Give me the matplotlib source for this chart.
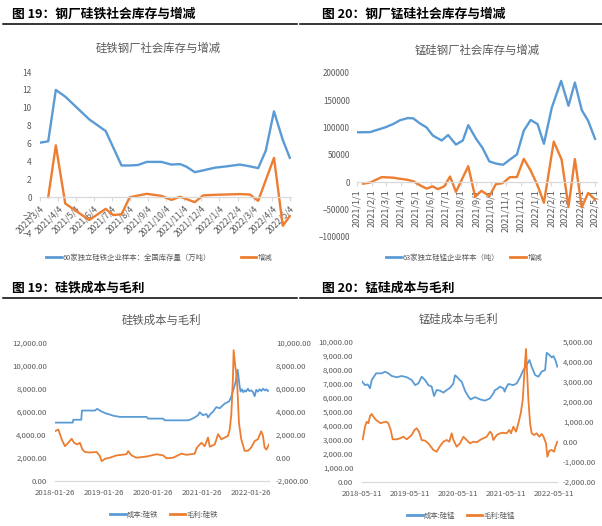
import numpy as np
import pandas as pd
import matplotlib
matplotlib.use("Agg")
import matplotlib.pyplot as plt
from matplotlib.lines import Line2D

plt.rcParams['font.family'] = ['Noto Sans CJK SC', 'DejaVu Sans']

BLUE, ORANGE = "#5B9BD5", "#ED7D31"
AXIS = "#D9D9D9"
TXT = "#595959"
W, H = 602, 526

# ---- 硅铁 social inventory (万吨), day offsets from 2021-03-04
FE_START = "2021-03-04"
fe_inv_days = [0, 14, 27, 43, 84, 112, 139, 153, 167, 182, 207, 224, 239, 250, 264,
               278, 298, 318, 341, 358, 372, 385, 399, 414, 426]
fe_inv = [6.1, 6.25, 12.0, 11.25, 8.7, 7.4, 3.55, 3.55, 3.6, 3.95, 3.95, 3.65, 3.7, 3.4, 2.8,
          3.0, 3.3, 3.45, 3.65, 3.45, 3.25, 5.2, 9.6, 6.4, 4.4]
fe_chg_days = [14, 27, 43, 84, 112, 125, 139, 153, 182, 207, 224, 239, 264, 278, 298,
               341, 358, 372, 399, 414, 426]
fe_chg = [0, 5.8, -0.7, -2.55, -1.3, -2.0, -1.9, 0, 0.38, 0.15, -0.3, 0.05, -0.55, 0.2, 0.27,
          0.35, 0.3, -0.4, 4.4, -3.2, -2.1]
fe_ticks = ["2021/3/4", "2021/4/4", "2021/5/4", "2021/6/4", "2021/7/4", "2021/8/4",
            "2021/9/4", "2021/10/4", "2021/11/4", "2021/12/4", "2022/1/4", "2022/2/4",
            "2022/3/4", "2022/4/4", "2022/5/4"]

# ---- 锰硅 social inventory (吨), day offsets from 2021-01-01
MN_START = "2021-01-01"
mn_inv_days = [0, 27, 58, 74, 88, 104, 115, 129, 142, 155, 173, 186, 202, 216, 227, 243,
               256, 270, 285, 298, 312, 326, 340, 354, 368, 381, 397, 416, 431, 444, 458,
               471, 485]
mn_inv = [91000, 91300, 100000, 106000, 113000, 117000, 116500, 107000, 100000, 85000,
          76000, 86000, 68500, 76000, 104000, 79000, 62500, 37600, 33400, 31600, 41300,
          50400, 94000, 113500, 106000, 70000, 136000, 185000, 139500, 182000, 131600,
          112000, 79000]
mn_chg_days = [13, 27, 51, 74, 88, 102, 115, 129, 142, 155, 165, 178, 190, 202, 227, 241,
               254, 270, 283, 297, 312, 326, 340, 354, 368, 381, 401, 417, 431, 444, 458,
               471, 485]
mn_chg = [-3000, -1000, 9000, 8000, 6000, 4300, 1500, -6000, -12000, -8000, -13000, -8000,
          10000, -18000, 29000, -27000, -16000, -26000, -4000, -2000, 9000, 9000, 42500,
          21000, -6000, -38000, 74000, 41000, -45500, 42000, -46500, -20000, -32000]
mn_ticks = ["2021/1/1", "2021/2/1", "2021/3/1", "2021/4/1", "2021/5/1", "2021/6/1",
            "2021/7/1", "2021/8/1", "2021/9/1", "2021/10/1", "2021/11/1", "2021/12/1",
            "2022/1/1", "2022/2/1", "2022/3/1", "2022/4/1", "2022/5/1"]

# ---- 硅铁 cost / margin, day offsets from 2018-01-26
FC_START = "2018-01-26"
fc_cost_days = [0, 132, 137, 196, 201, 298, 315, 335, 360, 380, 410, 435, 484, 683, 695,
                807, 819, 993, 1018, 1043, 1068, 1080, 1105, 1130, 1142, 1160, 1179, 1204,
                1229, 1266, 1299, 1316, 1328, 1346, 1363, 1378, 1385, 1395, 1405, 1415,
                1425, 1440, 1450, 1465, 1478, 1490, 1502, 1515, 1527, 1540, 1552, 1565,
                1577, 1587, 1597]
fc_cost = [5050, 5050, 5300, 5300, 6100, 6100, 6250, 6100, 5950, 5850, 5750, 5650, 5550,
           5550, 5400, 5400, 5250, 5250, 5350, 5500, 5700, 5950, 5700, 5800, 5500, 5800,
           6000, 6400, 6300, 6700, 6900, 7300, 7800, 8500, 9650, 8200, 7750, 7950, 7700,
           7850, 7750, 8000, 7800, 7850, 7700, 7350, 7900, 7750, 7950, 7800, 8000, 7850,
           7950, 7800, 7850]
fc_margin_days = [0, 25, 50, 74, 99, 124, 142, 166, 186, 204, 223, 261, 310, 335, 348, 372,
                  410, 459, 534, 546, 571, 608, 683, 757, 807, 832, 881, 944, 981, 1043,
                  1055, 1068, 1093, 1117, 1142, 1155, 1192, 1217, 1241, 1291, 1304, 1316,
                  1328, 1333, 1345, 1358, 1373, 1390, 1415, 1440, 1465, 1490, 1514, 1539,
                  1552, 1564, 1577, 1597]
fc_margin = [2300, 2450, 1600, 1000, 1300, 1650, 1300, 1150, 1300, 720, 500, 450, 500, 150,
             -300, -100, 0, 200, 300, 570, 200, 0, 100, 300, 200, -50, 0, 350, 250, 350,
             780, 1000, 1300, 1000, 1750, 950, 1150, 2050, 1600, 1900, 2450, 3800, 7000,
             9350, 8000, 6800, 3000, 1600, 600, 600, 900, 1450, 1600, 2300, 1900, 900, 700,
             1150]
fc_ticks = ["2018-01-26", "2019-01-26", "2020-01-26", "2021-01-26", "2022-01-26"]

# ---- 锰硅 cost / margin, day offsets from 2018-05-11
MC_START = "2018-05-11"
mc_cost_days = [0, 25, 46, 63, 76, 109, 152, 177, 202, 228, 266, 304, 342, 380, 405, 430,
                455, 481, 506, 531, 549, 569, 595, 620, 645, 670, 695, 708, 721, 740, 759,
                784, 810, 827, 860, 898, 936, 974, 999, 1012, 1025, 1050, 1075, 1085, 1095,
                1113, 1151, 1176, 1202, 1227, 1252, 1273, 1290, 1316, 1341, 1366, 1392,
                1404, 1424, 1442, 1455, 1470, 1485]
mc_cost = [7190, 6900, 6950, 6670, 7260, 7740, 7740, 7860, 7740, 7550, 7460, 7550, 7460,
           7260, 6900, 7020, 7500, 7260, 6900, 6790, 6120, 6550, 6500, 6360, 6550, 6700,
           7000, 7600, 7500, 7300, 7140, 6500, 6070, 5880, 6040, 5880, 5790, 5960, 6310,
           6550, 6600, 6790, 6670, 6430, 6700, 6980, 6900, 7020, 7460, 7980, 8340, 8690,
           8210, 7620, 7500, 7860, 7980, 9210, 9050, 8880, 8970, 8690, 8210]
mc_margin_days = [8, 25, 38, 51, 63, 76, 89, 109, 127, 144, 164, 185, 202, 220, 235, 266,
                  291, 316, 342, 380, 400, 417, 435, 455, 481, 506, 544, 569, 595, 620,
                  645, 665, 683, 696, 721, 746, 772, 797, 822, 848, 873, 898, 923, 949,
                  974, 986, 999, 1025, 1050, 1075, 1100, 1121, 1133, 1151, 1171, 1189,
                  1207, 1222, 1240, 1247, 1255, 1265, 1278, 1290, 1308, 1328, 1348, 1366,
                  1380, 1399, 1409, 1424, 1442, 1460, 1470, 1485]
mc_margin = [120, 750, 1000, 920, 1285, 1385, 1250, 1085, 1000, 920, 970, 1000, 920, 585,
             120, 120, 170, 250, 120, 335, 585, 670, 500, 85, 50, -85, -415, -500, -215, 0,
             85, 0, 420, 85, -250, -85, 250, 85, -85, 0, -30, 85, 170, 250, 500, 420, 85,
             335, 420, 450, 420, 585, 420, 750, 500, 920, 1420, 2085, 4000, 4635, 3500,
             2085, 920, 420, 335, 420, 250, 385, 250, -85, -750, -450, -415, -500, -250, 0]
mc_ticks = ["2018-05-11", "2019-05-11", "2020-05-11", "2021-05-11", "2022-05-11"]


def to_dates(start, days):
    return pd.Timestamp(start) + pd.to_timedelta(days, unit="D")


def frac(x0, y0, x1, y1):  # pixel box -> figure fraction rect
    return [x0 / W, 1 - y1 / H, (x1 - x0) / W, (y1 - y0) / H]


def heading(x, y, s, x0, x1):
    fig.text(x / W, 1 - y / H, s, fontsize=9.2, fontweight="bold", ha="left", va="center")
    fig.add_artist(Line2D([x0 / W, x1 / W], [1 - (y + 9.5) / H] * 2, color="black", lw=1.1))


def clean(ax):
    for s in ["top", "right", "left"]:
        ax.spines[s].set_visible(False)
    ax.spines["bottom"].set_color(AXIS)
    ax.spines["bottom"].set_linewidth(0.9)


def legend(x, y, labels, gap):
    hs = [Line2D([], [], color=BLUE, lw=2), Line2D([], [], color=ORANGE, lw=2)]
    fig.legend(hs, labels, loc="center", bbox_to_anchor=(x / W, 1 - y / H), ncol=2,
               frameon=False, fontsize=5.3, handlelength=2.1, handletextpad=0.2,
               columnspacing=gap, labelcolor=TXT)


fig = plt.figure(figsize=(6.02, 5.26), dpi=100)

heading(12, 14, "图 19：钢厂硅铁社会库存与增减", 3, 297)
heading(322, 14, "图 20：钢厂锰硅社会库存与增减", 300, 602)
heading(12, 288, "图 19：硅铁成本与毛利", 3, 297)
heading(322, 288, "图 20：锰硅成本与毛利", 300, 602)

# ---- panel 1
ax = fig.add_axes(frac(40, 72, 291, 233))
ax.plot(to_dates(FE_START, fe_inv_days), fe_inv, color=BLUE, lw=1.7)
ax.plot(to_dates(FE_START, fe_chg_days), fe_chg, color=ORANGE, lw=1.7)
ax.set_ylim(-4, 14)
ax.set_yticks(np.arange(-4, 15, 2))
ax.set_xlim(pd.Timestamp(FE_START), pd.Timestamp("2022-05-06"))
clean(ax)
ax.spines["bottom"].set_position(("data", 0))
ax.set_xticks(pd.to_datetime(fe_ticks, format="%Y/%m/%d"))
ax.set_xticklabels(fe_ticks, rotation=45, ha="right", va="top", rotation_mode="anchor")
ax.tick_params(axis="x", length=3, color=AXIS, labelsize=6.2, labelcolor=TXT, pad=2)
ax.tick_params(axis="y", length=0, labelsize=6, labelcolor=TXT, pad=6)
fig.text(158 / W, 1 - 48 / H, "硅铁钢厂社会库存与增减", fontsize=8.2, color=TXT,
         ha="center", va="center")
legend(159, 258, ["60家独立硅铁企业样本：全国库存量（万吨）", "增减"], 4.0)

# ---- panel 2
ax = fig.add_axes(frac(356.7, 72.7, 597, 236.7))
ax.plot(to_dates(MN_START, mn_inv_days), mn_inv, color=BLUE, lw=1.7)
ax.plot(to_dates(MN_START, mn_chg_days), mn_chg, color=ORANGE, lw=1.7)
ax.set_ylim(-100000, 200000)
ax.set_yticks(np.arange(-100000, 200001, 50000))
ax.set_xlim(pd.Timestamp(MN_START), pd.Timestamp("2022-05-05"))
clean(ax)
ax.spines["bottom"].set_position(("data", 0))
ax.set_xticks(pd.to_datetime(mn_ticks, format="%Y/%m/%d"))
ax.set_xticklabels(mn_ticks, rotation=90, ha="center", va="top")
ax.tick_params(axis="x", length=3, color=AXIS, labelsize=6.6, labelcolor=TXT, pad=2)
ax.tick_params(axis="y", length=0, labelsize=5.8, labelcolor=TXT, pad=5)
fig.text(477 / W, 1 - 50 / H, "锰硅钢厂社会库存与增减", fontsize=8.2, color=TXT,
         ha="center", va="center")
legend(464, 258, ["63家独立硅锰企业样本（吨）", "增减"], 1.5)

# ---- panel 3
ax = fig.add_axes(frac(55, 342.7, 269, 480.7))
ax.plot(to_dates(FC_START, fc_cost_days), fc_cost, color=BLUE, lw=1.3)
ax.set_ylim(0, 12000)
ax.set_yticks(np.arange(0, 12001, 2000))
ax.set_yticklabels([f"{v:,.2f}" for v in np.arange(0, 12001, 2000)])
ax.set_xlim(pd.Timestamp(FC_START), pd.Timestamp("2022-06-11"))
clean(ax)
ax.set_xticks(pd.to_datetime(fc_ticks))
ax.set_xticklabels(fc_ticks)
ax.tick_params(axis="x", length=0, labelsize=5.6, labelcolor=TXT, pad=6)
ax.tick_params(axis="y", length=0, labelsize=5.6, labelcolor=TXT, pad=6)
ax2 = ax.twinx()
ax2.plot(to_dates(FC_START, fc_margin_days), fc_margin, color=ORANGE, lw=1.3)
ax2.set_ylim(-2000, 10000)
ax2.set_yticks(np.arange(-2000, 10001, 2000))
ax2.set_yticklabels([f"{v:,.2f}" for v in np.arange(-2000, 10001, 2000)])
for s in ax2.spines.values():
    s.set_visible(False)
ax2.tick_params(axis="y", length=0, labelsize=5.6, labelcolor=TXT, pad=5)
fig.text(162 / W, 1 - 320 / H, "硅铁成本与毛利", fontsize=8.2, color=TXT,
         ha="center", va="center")
legend(164, 515, ["成本:硅铁", "毛利:硅铁"], 1.5)

# ---- panel 4
ax = fig.add_axes(frac(361.7, 341.7, 557.5, 481.7))
ax.plot(to_dates(MC_START, mc_cost_days), mc_cost, color=BLUE, lw=1.3)
ax.set_ylim(0, 10000)
ax.set_yticks(np.arange(0, 10001, 1000))
ax.set_yticklabels([f"{v:,.2f}" for v in np.arange(0, 10001, 1000)])
ax.set_xlim(pd.Timestamp(MC_START), pd.Timestamp("2022-06-05"))
clean(ax)
ax.set_xticks(pd.to_datetime(mc_ticks))
ax.set_xticklabels(mc_ticks)
ax.tick_params(axis="x", length=0, labelsize=5.6, labelcolor=TXT, pad=6)
ax.tick_params(axis="y", length=0, labelsize=5.6, labelcolor=TXT, pad=6)
ax2 = ax.twinx()
ax2.plot(to_dates(MC_START, mc_margin_days), mc_margin, color=ORANGE, lw=1.3)
ax2.set_ylim(-2000, 5000)
ax2.set_yticks(np.arange(-2000, 5001, 1000))
ax2.set_yticklabels([f"{v:,.2f}" for v in np.arange(-2000, 5001, 1000)])
for s in ax2.spines.values():
    s.set_visible(False)
ax2.tick_params(axis="y", length=0, labelsize=5.6, labelcolor=TXT, pad=4)
fig.text(458 / W, 1 - 319 / H, "锰硅成本与毛利", fontsize=8.2, color=TXT,
         ha="center", va="center")
legend(461, 516, ["成本:硅锰", "毛利:硅锰"], 1.5)

fig.savefig("out.png", dpi=100)
